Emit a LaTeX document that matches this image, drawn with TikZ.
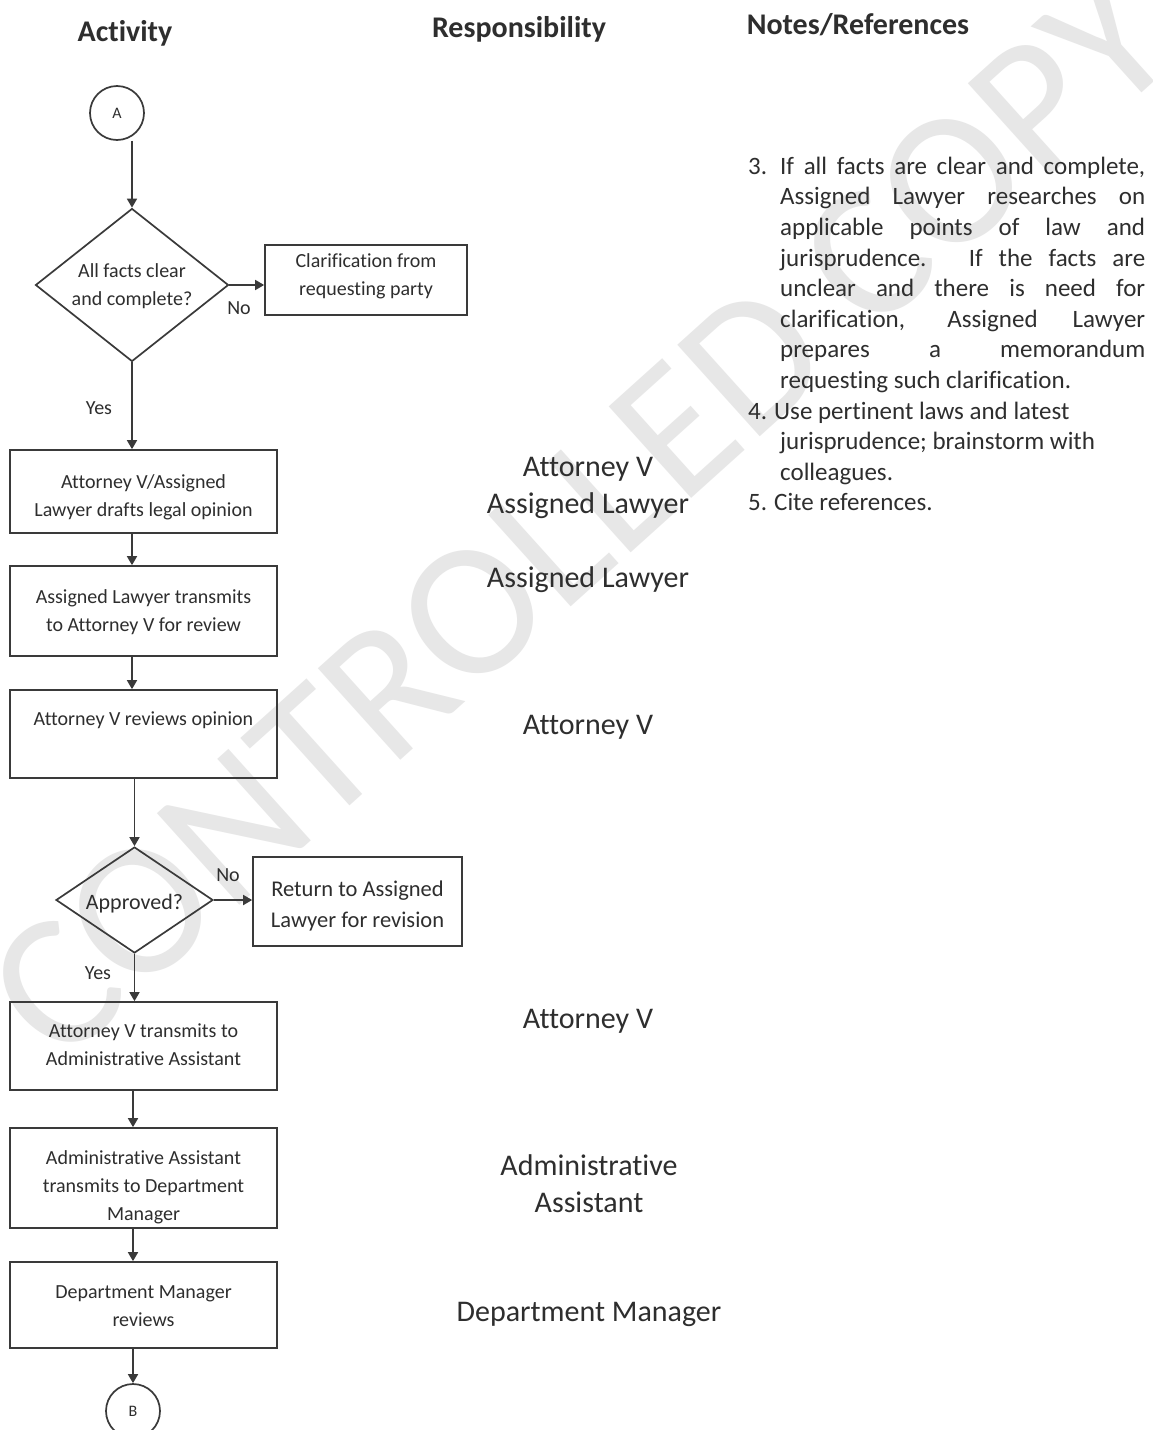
\documentclass[tikz,border=0pt]{standalone}
\usepackage{fontspec}
\setmainfont{Carlito}[Ligatures=NoCommon]
\usetikzlibrary{shapes.geometric,arrows.meta}
\definecolor{ink}{HTML}{2E2E2E}
\definecolor{edge}{HTML}{3A3A3A}
\definecolor{stamp}{HTML}{E7E7E7}
% centred block of lines, raised (positive) or lowered (negative) inside its node
\newcommand{\stack}[2]{\raisebox{#1}[\height][\depth]{\begin{tabular}{@{}c@{}}#2\end{tabular}}}
\begin{document}
\begin{tikzpicture}[x=1pt,y=-1pt,
  every node/.style={text=ink},
  stepbox/.style={draw=edge,line width=1.7pt,rectangle,inner sep=0pt,
    minimum width=267pt,font=\fontsize{20}{28}\selectfont},
  decision/.style={draw=edge,line width=1.7pt,diamond,inner sep=0pt},
  conn/.style={draw=edge,line width=1.7pt,circle,minimum size=54pt,inner sep=0pt,
    font=\fontsize{16}{18}\selectfont},
  arr/.style={draw=edge,line width=1.7pt,-{Triangle[length=9pt,width=10pt]}},
  head/.style={font=\fontsize{30}{36}\selectfont\bfseries},
  resp/.style={font=\fontsize{30}{37}\selectfont,align=center},
  tag/.style={font=\fontsize{20}{24}\selectfont},
]
\fill[white] (0,0) rectangle (1152,1430);
\useasboundingbox (0,0) rectangle (1152,1430);

% document stamp behind the chart
\node[rotate=42,text=stamp,font=\fontsize{192}{200}\selectfont] (stamp) at (580,516) {CONTROLLED COPY};

% column headings
\node[head] (hact) at (125,33) {Activity};
\node[head] (hresp) at (519,29) {Responsibility};
\node[head] (hnotes) at (858,25) {Notes/References};

% flow
\node[conn] (A) at (117,113) {A};
\node[decision,minimum width=193pt,minimum height=153pt,aspect=1.26,
  font=\fontsize{20}{28}\selectfont] (d1) at (132,285) {\stack{-1pt}{All facts clear\\and complete?}};
\node[stepbox,minimum width=202pt,minimum height=70pt] (clar) at (366,280)
  {\stack{4.5pt}{Clarification from\\requesting party}};
\node[stepbox,minimum height=83pt] (b1) at (143.5,491.5)
  {\stack{-5pt}{Attorney V/Assigned\\Lawyer drafts legal opinion}};
\node[stepbox,minimum height=90pt] (b2) at (143.5,611)
  {\stack{-1pt}{Assigned Lawyer transmits\\to Attorney V for review}};
\node[stepbox,minimum height=88pt] (b3) at (143.5,734)
  {\stack{0pt}{Attorney V reviews opinion\\\mbox{}}};
\node[decision,minimum width=157pt,minimum height=106pt,aspect=1.48,
  font=\fontsize{22}{28}\selectfont] (d2) at (134.5,900) {\stack{-4pt}{Approved?}};
\node[stepbox,minimum width=209pt,minimum height=89pt,
  font=\fontsize{22.5}{31}\selectfont] (ret) at (357.5,901.5)
  {\stack{-4.5pt}{Return to Assigned\\Lawyer for revision}};
\node[stepbox,minimum height=88pt] (b4) at (143.5,1046)
  {\stack{0pt}{Attorney V transmits to\\Administrative Assistant}};
\node[stepbox,minimum height=100pt] (b5) at (143.5,1178)
  {\stack{-8.5pt}{Administrative Assistant\\transmits to Department\\Manager}};
\node[stepbox,minimum height=86pt] (b6) at (143.5,1305)
  {\stack{-1.5pt}{Department Manager\\reviews}};
\node[conn] (B) at (133,1411) {B};

% connectors
\draw[arr] (A.south -| d1.north) -- (d1.north);
\draw[arr] (d1.east) -- (d1.east -| clar.west);
\draw[arr] (d1.south) -- (b1.north -| d1.south);
\draw[arr] (b1.south -| d1.south) -- (b2.north -| d1.south);
\draw[arr] (b2.south -| d1.south) -- (b3.north -| d1.south);
\draw[arr] (b3.south -| d2.north) -- (d2.north);
\draw[arr] (d2.east) -- (d2.east -| ret.west);
\draw[arr] (d2.south) -- (b4.north -| d2.south);
\draw[arr] (b4.south -| B.north) -- (b5.north -| B.north);
\draw[arr] (b5.south -| B.north) -- (b6.north -| B.north);
\draw[arr] (b6.south -| B.north) -- (B.north);

% branch labels
\node[tag] (no1) at (239,308) {No};
\node[tag] (yes1) at (99,408) {Yes};
\node[tag] (no2) at (228,875) {No};
\node[tag] (yes2) at (98,973) {Yes};

% responsibility column
\node[resp] (r1) at (588,487.5) {Attorney V\\Assigned Lawyer};
\node[resp] (r2) at (588,580) {Assigned Lawyer};
\node[resp] (r3) at (588,727) {Attorney V};
\node[resp] (r4) at (588,1021) {Attorney V};
\node[resp] (r5) at (589,1184) {Administrative\\Assistant};
\node[resp] (r6) at (589,1314) {Department Manager};

% notes column
\node[anchor=north west,inner sep=0pt,align=left,
  font=\fontsize{25}{30.6}\selectfont] (notes) at (748,149) {%
\rule{0pt}{25pt}\makebox[32pt][l]{3.}\makebox[365pt][s]{If all facts are clear and complete,}\\
\hspace*{32pt}\makebox[365pt][s]{Assigned Lawyer researches on}\\
\hspace*{32pt}\makebox[365pt][s]{applicable points of law and}\\
\hspace*{32pt}\makebox[365pt][s]{jurisprudence.\hspace{4pt} If the facts are}\\
\hspace*{32pt}\makebox[365pt][s]{unclear and there is need for}\\
\hspace*{32pt}\makebox[365pt][s]{clarification, Assigned Lawyer}\\
\hspace*{32pt}\makebox[365pt][s]{prepares a memorandum}\\
\hspace*{32pt}requesting such clarification.\\
\makebox[26pt][l]{4.}Use pertinent laws and latest\\
\hspace*{32pt}jurisprudence; brainstorm with\\
\hspace*{32pt}colleagues.\\
\makebox[26pt][l]{5.}Cite references.};
\end{tikzpicture}
\end{document}
